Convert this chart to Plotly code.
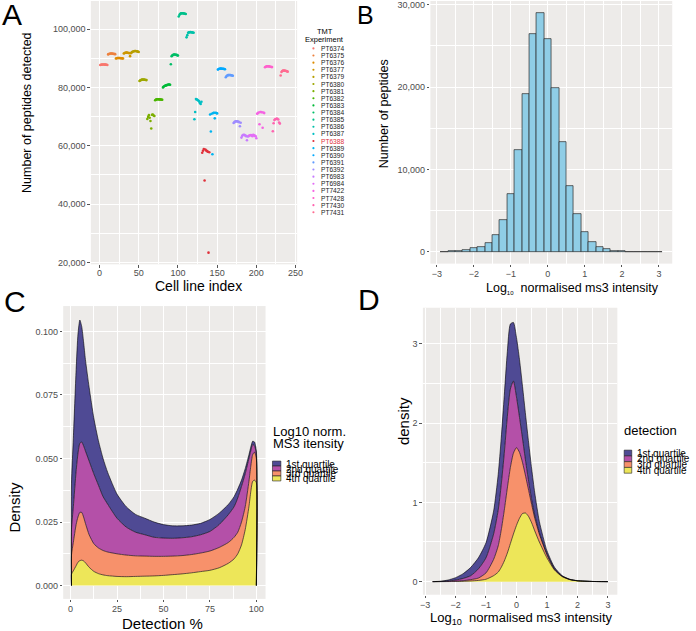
import math
import plotly.graph_objects as go

W, H = 696, 631
FONT = "Liberation Sans, Arial, Helvetica, sans-serif"

# ---------------- Panel A data ----------------
experiments = ["PT6374", "PT6375", "PT6376", "PT6377", "PT6379", "PT6380", "PT6381", "PT6382",
               "PT6383", "PT6384", "PT6385", "PT6386", "PT6387", "PT6388", "PT6389", "PT6390",
               "PT6391", "PT6392", "PT6983", "PT6984", "PT7422", "PT7428", "PT7430", "PT7431"]
highlight_experiment = "PT6388"

peptides_per_experiment = [
    [87700, 87750, 87800, 87850, 87850, 87850, 87800, 87800, 87750, 87700],
    [91300, 91450, 91550, 91600, 91600, 91600, 91550, 91500, 91450, 91400],
    [89900, 90000, 90050, 90100, 90100, 90050, 90000, 90000, 89950, 89900],
    [91600, 91750, 91850, 91900, 91900, 91850, 91800, 91750, 90700, 91700],
    [92000, 92200, 92300, 92400, 92450, 92450, 92400, 92350, 92250, 92150],
    [82200, 82400, 82550, 82650, 82700, 82700, 82650, 82600, 82550, 82500],
    [69200, 69900, 70500, 69600, 68500, 65900, 70600, 70700, 70400, 70200],
    [75600, 75800, 75900, 75950, 75950, 75900, 75900, 75850, 75800, 75750],
    [80000, 80300, 80500, 80600, 80700, 80800, 80900, 81000, 81000, 80900],
    [87950, 90700, 91000, 91150, 91250, 91250, 91200, 91150, 91050, 90900],
    [104300, 104850, 105200, 105350, 105400, 105400, 105350, 105300, 105250, 105150],
    [97150, 97900, 98700, 98850, 98900, 98950, 98900, 98850, 98800, 98700],
    [69100, 71600, 76000, 75900, 75700, 75500, 75200, 74700, 74300, 75100],
    [57600, 58300, 58900, 48100, 58700, 58400, 58200, 58000, 23400, 57800],
    [70700, 64900, 71000, 57100, 71200, 71300, 69400, 71300, 71200, 71100],
    [86100, 86300, 86400, 86450, 86450, 86400, 86400, 86350, 86300, 86200],
    [83500, 83900, 84100, 84200, 84250, 84250, 84200, 84150, 84100, 84000],
    [67800, 68100, 68300, 68400, 68400, 68350, 68250, 68100, 66700, 67900],
    [62800, 63400, 63700, 63800, 63700, 63500, 63300, 61900, 63200, 63300],
    [63500, 63600, 63700, 63500, 63300, 63800, 63600, 63400, 63300, 62600],
    [71000, 71200, 71400, 67400, 71600, 71600, 71500, 66200, 71400, 71200],
    [86900, 87100, 87200, 87250, 87250, 87200, 87150, 87100, 87000, 86950],
    [65000, 67700, 68800, 69100, 69200, 69300, 69200, 69000, 68000, 67600],
    [84100, 85300, 85600, 85750, 85800, 85750, 85700, 85600, 85500, 85400],
]

# ---------------- Panel B data ----------------
bin_centers = [-2.8, -2.6, -2.4, -2.2, -2.0, -1.8, -1.6, -1.4, -1.2, -1.0,
               -0.8, -0.6, -0.4, -0.2, 0.0, 0.2, 0.4, 0.6, 0.8, 1.0,
               1.2, 1.4, 1.6, 1.8, 2.0, 2.2, 2.4, 2.6, 2.8, 3.0]
bin_counts = [10, 30, 80, 200, 400, 600, 1090, 2050, 3900, 7000,
              12360, 19200, 26460, 29000, 25850, 19930, 13370, 8010, 4590, 2420,
              1210, 560, 320, 120, 50, 20, 10, 5, 5, 5]

# ---------------- Panel C data (stacked density boundaries) ----------------
quartile_labels = ["1st quartile", "2nd quartile", "3rd quartile", "4th quartile"]
detection_x = [0.5, 1.5, 3, 4, 5, 6, 7, 8, 10, 12.5, 15, 17.5, 20, 25, 30, 35, 40, 45, 50,
               55, 60, 65, 70, 75, 80, 85, 88, 90, 92, 94, 96, 97, 98, 99, 100]
c_top_q1 = [0.040, 0.058, 0.085, 0.099, 0.1045, 0.102, 0.096, 0.089, 0.078, 0.066, 0.057, 0.050,
            0.0445, 0.036, 0.031, 0.028, 0.0265, 0.025, 0.024, 0.0235, 0.0235, 0.0238, 0.0245,
            0.026, 0.0285, 0.032, 0.035, 0.038, 0.0415, 0.046, 0.0515, 0.0545, 0.0568, 0.0565, 0.053]
c_top_q2 = [0.022, 0.031, 0.045, 0.052, 0.056, 0.0565, 0.055, 0.053, 0.049, 0.044, 0.0395, 0.035,
            0.032, 0.0265, 0.023, 0.021, 0.020, 0.019, 0.0187, 0.0186, 0.0188, 0.0192, 0.020,
            0.0213, 0.024, 0.028, 0.031, 0.0345, 0.039, 0.044, 0.050, 0.053, 0.0555, 0.055, 0.0515]
c_top_q3 = [0.012, 0.017, 0.024, 0.027, 0.0288, 0.0288, 0.027, 0.0245, 0.020, 0.0165, 0.0148,
            0.0138, 0.0132, 0.0125, 0.012, 0.0117, 0.0116, 0.0115, 0.0115, 0.0116, 0.0118, 0.0122,
            0.0128, 0.0136, 0.015, 0.017, 0.019, 0.021, 0.025, 0.031, 0.041, 0.047, 0.0515, 0.0525, 0.050]
c_top_q4 = [0.0045, 0.0058, 0.0078, 0.0092, 0.0098, 0.0100, 0.0097, 0.009, 0.0072, 0.0056, 0.0047,
            0.0042, 0.0039, 0.0036, 0.0035, 0.0036, 0.0037, 0.0038, 0.004, 0.0043, 0.0046, 0.005,
            0.0055, 0.006, 0.007, 0.0088, 0.0105, 0.0125, 0.016, 0.022, 0.031, 0.037, 0.041, 0.0415, 0.0405]

# ---------------- Panel D data (stacked density boundaries) ----------------
intensity_x = [-2.75, -2.5, -2.25, -2.0, -1.75, -1.5, -1.25, -1.0, -0.75, -0.6, -0.5, -0.4, -0.3,
               -0.2, -0.1, 0.0, 0.1, 0.2, 0.3, 0.4, 0.5, 0.6, 0.75, 1.0, 1.25, 1.5, 1.75, 2.0, 2.5, 3.0]
d_top_q1 = [0.0, 0.005, 0.02, 0.05, 0.10, 0.18, 0.30, 0.49, 0.89, 1.35, 1.81, 2.35, 2.90,
            3.25, 3.27, 3.08, 2.80, 2.46, 2.10, 1.75, 1.42, 1.12, 0.76, 0.39, 0.18, 0.075, 0.03, 0.012, 0.002, 0.0]
d_top_q2 = [0.0, 0.002, 0.008, 0.02, 0.04, 0.075, 0.16, 0.30, 0.60, 0.90, 1.22, 1.62, 2.08,
            2.43, 2.53, 2.33, 2.07, 1.80, 1.52, 1.26, 1.03, 0.84, 0.62, 0.35, 0.16, 0.07, 0.028, 0.011, 0.002, 0.0]
d_top_q3 = [0.0, 0.001, 0.003, 0.006, 0.012, 0.025, 0.045, 0.11, 0.28, 0.45, 0.65, 0.90, 1.18,
            1.44, 1.62, 1.69, 1.63, 1.50, 1.33, 1.15, 0.97, 0.80, 0.60, 0.34, 0.155, 0.068, 0.027, 0.011, 0.002, 0.0]
d_top_q4 = [0.0, 0.0, 0.001, 0.002, 0.004, 0.008, 0.015, 0.03, 0.075, 0.12, 0.18, 0.26, 0.36,
            0.48, 0.60, 0.71, 0.80, 0.86, 0.865, 0.82, 0.74, 0.64, 0.50, 0.30, 0.145, 0.063, 0.025, 0.010, 0.002, 0.0]

# ---------------- styles ----------------
PANEL_BG = "#EDEBE9"
TICK_FONT = dict(family=FONT, size=9, color="#4D4D4D")
QUARTILE_COLORS = ["#4F4A94", "#B450A8", "#F7916B", "#EDE659"]
HILITE = "#E0303A"


def hue_pal(n, h0=15, l=65, c=100):
    cols = []
    for k in range(n):
        h = h0 + 360.0 * k / n
        hr = math.radians(h)
        U, V = c * math.cos(hr), c * math.sin(hr)
        Xn, Yn, Zn = 95.047, 100.0, 108.883
        Y = Yn * ((l + 16) / 116.0) ** 3
        den = Xn + 15 * Yn + 3 * Zn
        un, vn = 4 * Xn / den, 9 * Yn / den
        u = U / (13 * l) + un
        v = V / (13 * l) + vn
        X = 9.0 * Y * u / (4 * v)
        Z = 3 * Y / v - X / 3 - 5 * Y
        x, y, z = X / 100, Y / 100, Z / 100
        rgb = [3.2404542 * x - 1.5371385 * y - 0.4985314 * z,
               -0.9692660 * x + 1.8760108 * y + 0.0415560 * z,
               0.0556434 * x - 0.2040259 * y + 1.0572252 * z]
        out = []
        for ch in rgb:
            ch = 12.92 * ch if ch <= 0.0031308 else 1.055 * ch ** (1 / 2.4) - 0.055
            out.append(int(round(max(0, min(1, ch)) * 255)))
        cols.append("#%02X%02X%02X" % tuple(out))
    return cols


exp_colors = hue_pal(len(experiments))
exp_colors[experiments.index(highlight_experiment)] = HILITE


def pxx(p):
    return p / W


def pxy(p):
    return 1 - p / H


fig = go.Figure()

# Panel A scatter
idx = 1
for name, vals, col in zip(experiments, peptides_per_experiment, exp_colors):
    xs = list(range(idx, idx + len(vals)))
    idx += len(vals)
    fig.add_trace(go.Scatter(x=xs, y=vals, mode="markers", name=name,
                             marker=dict(size=2.6, color=col), xaxis="x", yaxis="y",
                             showlegend=False))

# Panel B histogram
fig.add_trace(go.Bar(x=bin_centers, y=bin_counts, width=0.2, xaxis="x2", yaxis="y2",
                     marker=dict(color="#8FCDE6", line=dict(color="#2A2A2A", width=0.7)),
                     showlegend=False))


def add_stack(xs, tops, xa, ya):
    # bottom layer first (4th quartile), up to 1st quartile
    order = [3, 2, 1, 0]
    for j, li in enumerate(order):
        xx = [xs[0]] + list(xs) + [xs[-1]]
        yy = [0] + list(tops[li]) + [0]
        fig.add_trace(go.Scatter(x=xx, y=yy, mode="lines", xaxis=xa, yaxis=ya,
                                 line=dict(color="black", width=0.6, shape="spline", smoothing=0.6),
                                 fill="tozeroy" if j == 0 else "tonexty",
                                 fillcolor=QUARTILE_COLORS[li], showlegend=False,
                                 name=quartile_labels[li]))


add_stack(detection_x, [c_top_q1, c_top_q2, c_top_q3, c_top_q4], "x3", "y3")
add_stack(intensity_x, [d_top_q1, d_top_q2, d_top_q3, d_top_q4], "x4", "y4")


def axis(domain, rng, dtick, minor, tick0=0, fmt=None, anchor=None, standoff=0):
    d = dict(domain=domain, range=rng, dtick=dtick, tick0=tick0, showgrid=True,
             gridcolor="white", gridwidth=1, zeroline=False, showline=False,
             ticks="outside", ticklen=2.5, tickwidth=1, tickcolor="#555555",
             tickfont=TICK_FONT, anchor=anchor, ticklabelstandoff=standoff,
             ticklabeloverflow="allow",
             minor=dict(dtick=minor, tick0=tick0, showgrid=True, gridcolor="white",
                        gridwidth=0.5, ticks=""))
    if fmt:
        d["tickformat"] = fmt
    return d


layout = dict(
    width=W, height=H, margin=dict(l=0, r=0, t=0, b=0),
    paper_bgcolor="white", plot_bgcolor=PANEL_BG, font=dict(family=FONT),
    bargap=0,
    xaxis=axis([pxx(89), pxx(298)], [-11, 252], 50, 25, anchor="y", standoff=-3),
    yaxis=axis([pxy(265), 1], [19400, 109600], 20000, 10000, tick0=0, fmt=",d", anchor="x"),
    xaxis2=axis([pxx(433), pxx(678)], [-3.173, 3.36], 1, 0.5, anchor="y2", standoff=-1),
    yaxis2=axis([pxy(264.3), 1], [-1450, 30450], 10000, 5000, fmt=",d", anchor="x2"),
    xaxis3=axis([pxx(61), pxx(266)], [-3.95, 104.95], 25, 12.5, anchor="y3", standoff=-1),
    yaxis3=axis([pxy(601.7), pxy(307)], [-0.00524, 0.11], 0.025, 0.0125, fmt=".3f", anchor="x3"),
    xaxis4=axis([pxx(425.4), pxx(622.4)], [-3.07, 3.31], 1, 0.5, anchor="y4", standoff=-1),
    yaxis4=axis([pxy(597.5), pxy(308.7)], [-0.165, 3.455], 1, 0.5, anchor="x4"),
)
fig.update_layout(**layout)

ann = []
shapes = []


def text(x, y, s, size, color="black", xanchor="center", yanchor="middle", angle=0):
    ann.append(dict(x=pxx(x), y=pxy(y), xref="paper", yref="paper", text=s, showarrow=False,
                    xanchor=xanchor, yanchor=yanchor, textangle=angle,
                    font=dict(family=FONT, size=size, color=color)))


# panel letters
text(-3, 14, "A", 30, xanchor="left")
text(357, 14, "B", 25, xanchor="left")
text(-1, 302, "C", 30, xanchor="left")
text(358, 300, "D", 30, xanchor="left")

# axis titles
text(25, 112, "Number of peptides detected", 12.5, angle=-90)
text(198, 286.5, "Cell line index", 14)
text(386, 114, "Number of peptides", 12.5, angle=-90)
text(577, 289.5, "Log<sub><span style='font-size:6px'>10</span></sub>  normalised ms3 intensity", 12.5)
text(12, 509, "Density", 15, angle=-90)
text(162, 626.5, "Detection %", 15)
text(406, 423, "density", 15, angle=-90)
text(525, 621.5, "Log<sub>10</sub>  normalised ms3 intensity", 13)

# Panel A legend (manual, tiny keys)
text(326, 31, "TMT", 7.5)
text(326, 39, "Experiment", 7.5)
for k, (name, col) in enumerate(zip(experiments, exp_colors)):
    yc = 47.7 + k * 7.17
    r = 1.1
    shapes.append(dict(type="circle", xref="paper", yref="paper",
                       x0=pxx(314.5 - r), x1=pxx(314.5 + r), y0=pxy(yc + r), y1=pxy(yc - r),
                       fillcolor=col, line=dict(width=0)))
    text(320, yc, name, 6.6, color=(HILITE if name == highlight_experiment else "#1A1A1A"),
         xanchor="left")

# Panel C legend
text(272, 433, "Log10 norm.", 13, xanchor="left")
text(272, 445, "MS3 itensity", 13, xanchor="left")
for k, lab in enumerate(quartile_labels):
    y0 = 463 + k * 5
    shapes.append(dict(type="rect", xref="paper", yref="paper",
                       x0=pxx(273), x1=pxx(281.5), y0=pxy(y0 + 5), y1=pxy(y0),
                       fillcolor=QUARTILE_COLORS[k], line=dict(color="#222222", width=0.6)))
    text(285, y0 + 3, lab, 10, xanchor="left")

# Panel D legend
text(627, 432, "detection", 13, xanchor="left")
for k, lab in enumerate(quartile_labels):
    y0 = 452 + k * 5.8
    shapes.append(dict(type="rect", xref="paper", yref="paper",
                       x0=pxx(629.3), x1=pxx(637), y0=pxy(y0 + 5.8), y1=pxy(y0),
                       fillcolor=QUARTILE_COLORS[k], line=dict(color="#222222", width=0.6)))
    text(640, y0 + 3, lab, 10, xanchor="left")

fig.update_layout(annotations=ann, shapes=shapes)
fig.write_html("out.html", config={"displayModeBar": False},
               post_script="document.body.style.margin='0';document.body.style.padding='0';")
